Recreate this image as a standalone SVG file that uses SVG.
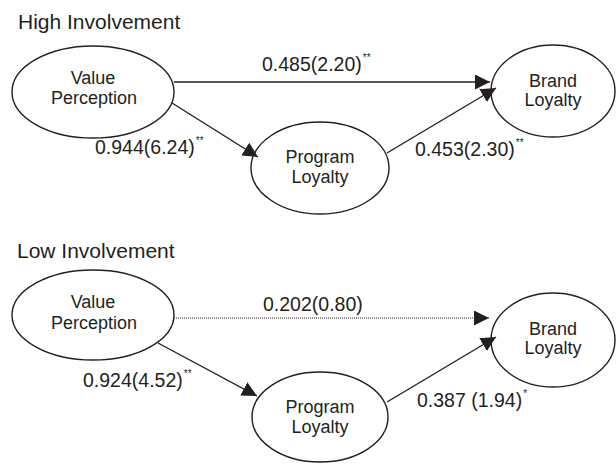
<svg xmlns="http://www.w3.org/2000/svg" width="616" height="464" viewBox="0 0 616 464">
<style>
text { font-family: "Liberation Sans", Arial, sans-serif; fill: #231f20; }
.title { font-size: 21px; }
.node { font-size: 18px; text-anchor: middle; }
.lbl { font-size: 19.5px; }
.sup { font-size: 10px; }
ellipse { fill: #fff; stroke: #231f20; stroke-width: 1.4; }
.conn line { stroke: #231f20; stroke-width: 1.4; marker-end: url(#arr); }
.conn line.dot { stroke-dasharray: 1 1; stroke-width: 1.2; }
</style>
<defs>
<marker id="arr" markerUnits="userSpaceOnUse" markerWidth="16" markerHeight="16" refX="15" refY="7.5" orient="auto">
<path d="M0,0 L15,7.5 L0,15 z" fill="#231f20"/>
</marker>
</defs>
<rect width="616" height="464" fill="#fff"/>
<text class="title" x="18" y="29">High Involvement</text>
<text class="title" x="17" y="258">Low Involvement</text>

<g id="hi-vp"><ellipse cx="93" cy="92" rx="81" ry="46"/><text class="node" x="93" y="84">Value</text><text class="node" x="94" y="104">Perception</text></g>
<g id="hi-pl"><ellipse cx="320" cy="168" rx="69" ry="46"/><text class="node" x="320" y="163">Program</text><text class="node" x="320" y="183">Loyalty</text></g>
<g id="hi-bl"><ellipse cx="553" cy="91" rx="62" ry="46"/><text class="node" x="553" y="87">Brand</text><text class="node" x="553" y="106">Loyalty</text></g>

<g id="lo-vp"><ellipse cx="93" cy="315" rx="81" ry="45"/><text class="node" x="93" y="308">Value</text><text class="node" x="94" y="329">Perception</text></g>
<g id="lo-pl"><ellipse cx="320" cy="417" rx="68" ry="45"/><text class="node" x="320" y="413">Program</text><text class="node" x="320" y="433">Loyalty</text></g>
<g id="lo-bl"><ellipse cx="553" cy="340" rx="62" ry="47"/><text class="node" x="553" y="335">Brand</text><text class="node" x="553" y="354">Loyalty</text></g>

<g class="conn" id="connectors">
<line x1="174" y1="82" x2="490" y2="82"/>
<line x1="172" y1="103" x2="258" y2="157"/>
<line x1="387" y1="153" x2="496" y2="88"/>
<line class="dot" x1="174" y1="318" x2="489" y2="318"/>
<line x1="158" y1="343" x2="257" y2="396"/>
<line x1="387" y1="402" x2="496" y2="337"/>
</g>

<g id="labels">
<text class="lbl" x="262" y="71">0.485(2.20)<tspan class="sup" dx="1" dy="-10">**</tspan></text>
<text class="lbl" x="95" y="154">0.944(6.24)<tspan class="sup" dx="1" dy="-10">**</tspan></text>
<text class="lbl" x="415" y="156">0.453(2.30)<tspan class="sup" dx="1" dy="-10">**</tspan></text>
<text class="lbl" x="263" y="311">0.202(0.80)</text>
<text class="lbl" x="83" y="387">0.924(4.52)<tspan class="sup" dx="1" dy="-10">**</tspan></text>
<text class="lbl" x="417" y="407">0.387 (1.94)<tspan class="sup" dx="1" dy="-10">*</tspan></text>
</g>
</svg>
